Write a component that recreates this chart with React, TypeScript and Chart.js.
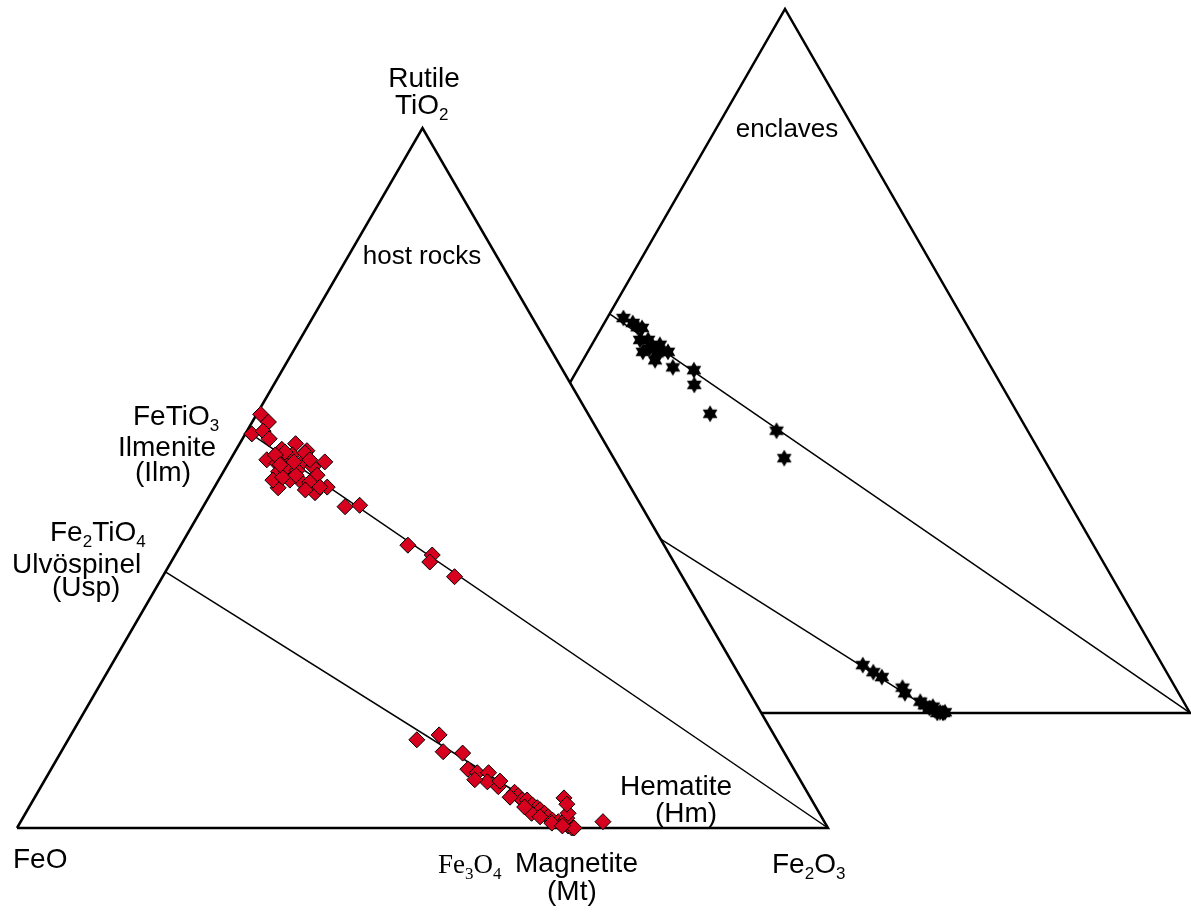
import { useEffect, useRef } from 'react';
import { Chart, registerables } from 'chart.js';

Chart.register(...registerables);

// ---- Data (ternary compositions, % of TiO2 and Fe2O3; FeO is the remainder) ----
const hostTiO2 = [
  59.1, 58.0, 56.3, 56.7, 55.6, 54.1, 54.9, 53.9, 52.6, 52.1, 52.6, 53.3, 52.3, 50.9, 51.4, 51.1, 49.7, 48.6, 49.7, 51.6,
  52.3, 50.4, 49.4, 47.9, 48.7, 48.7, 45.9, 46.1, 40.4, 39.0, 38.0, 35.9, 49.7, 50.1, 53.6, 52.6, 50.4, 53.7, 53.3, 48.3,
  51.9, 52.3,
  12.6, 13.3, 10.9, 10.7, 8.4, 7.9, 7.9, 6.6, 5.9, 6.7, 5.1, 4.6, 4.0, 4.0, 3.3, 2.9, 2.6, 2.1, 1.6, 1.1,
  0.9, 0.7, 0.3, 0.0, 0.0, 1.4, 2.1, 4.3, 3.4, 0.9, 2.1, 1.6, 0.7, 4.4, 3.0, 0.3, 6.9,
];
const hostFe2O3 = [
  0.5, 2.0, 0.8, 2.0, 3.3, 5.6, 6.9, 8.8, 4.5, 6.0, 7.0, 7.3, 9.1, 6.8, 7.7, 9.0, 10.0, 7.9, 8.8, 10.7,
  11.8, 11.8, 11.4, 12.8, 13.9, 13.0, 17.5, 19.2, 28.0, 31.7, 31.9, 36.0, 6.7, 7.7, 8.7, 9.8, 9.2, 6.2, 5.2, 11.4,
  6.5, 8.0,
  43.0, 45.4, 47.1, 49.6, 51.4, 52.8, 54.2, 54.7, 56.4, 56.2, 58.8, 59.5, 60.3, 60.9, 61.9, 62.7, 63.2, 64.0, 64.7, 65.5,
  66.3, 67.0, 67.8, 68.4, 68.7, 67.1, 66.9, 65.3, 66.1, 71.8, 62.4, 63.7, 65.6, 58.6, 61.1, 67.1, 53.0,
];
const enclaveTiO2 = [
  56.1, 55.4, 54.7, 54.8, 53.0, 51.3, 52.0, 52.3, 50.1, 51.3, 51.3, 49.1, 48.7, 46.6, 42.5, 40.1, 36.2, 51.8, 51.1, 53.0,
  6.8, 5.8, 5.1, 3.6, 2.8, 1.6, 1.1, 0.7, 0.4, 0.1, 0.0, 0.0, 0.1, 0.9,
];
const enclaveFe2O3 = [
  2.0, 3.5, 5.0, 4.4, 6.6, 6.8, 7.7, 8.4, 8.9, 8.9, 9.9, 11.6, 14.4, 15.5, 19.5, 28.9, 31.8, 7.4, 8.6, 5.6,
  56.2, 58.0, 59.4, 62.7, 63.4, 65.9, 66.7, 67.5, 68.3, 69.1, 69.5, 68.8, 69.7, 67.8,
];

// End members (TiO2 %, Fe2O3 %)
const ILMENITE = [56.7, 0];
const ULVOSPINEL = [36.6, 0];
const MAGNETITE = [0, 68.6];
const HEMATITE = [0, 100];
const FEO = [0, 0];
const RUTILE = [100, 0];

// ---- Layout: frames of the two triangles in axis units ----
type Frame = { ox: number; oy: number; sx: number; sy: number };
const HOST_FRAME: Frame = { ox: 0, oy: 0, sx: 1, sy: 1 };
const ENCLAVE_FRAME: Frame = { ox: 44.76, oy: 16.43, sx: 0.9988, sy: 1.0057 };

function project(t: number, f3: number, fr: Frame) {
  return { x: fr.ox + fr.sx * (f3 + t / 2), y: fr.oy + fr.sy * t };
}
function pts(ts: number[], fs: number[], fr: Frame) {
  return ts.map((t, i) => project(t, fs[i], fr));
}
function seg(a: number[], b: number[], fr: Frame) {
  return [project(a[0], a[1], fr), project(b[0], b[1], fr)];
}
function frameOutline(fr: Frame) {
  return [FEO, HEMATITE, RUTILE, FEO].map((p) => project(p[0], p[1], fr));
}

type Part = { t: string; sub?: boolean };
type Label = { parts: Part[]; x: number; y: number; size: number; family?: string; align?: 'left' | 'center' };
const SANS = '"Liberation Sans", Arial, sans-serif';
const SERIF = '"Liberation Serif", "Times New Roman", serif';
const labels: Label[] = [
  { parts: [{ t: 'Rutile' }], x: 424, y: 87, size: 28, align: 'center' },
  { parts: [{ t: 'TiO' }, { t: '2', sub: true }], x: 395, y: 114, size: 28 },
  { parts: [{ t: 'host rocks' }], x: 422, y: 264, size: 26, align: 'center' },
  { parts: [{ t: 'enclaves' }], x: 787, y: 137, size: 26, align: 'center' },
  { parts: [{ t: 'FeTiO' }, { t: '3', sub: true }], x: 133, y: 425, size: 28 },
  { parts: [{ t: 'Ilmenite' }], x: 118, y: 456, size: 28 },
  { parts: [{ t: '(Ilm)' }], x: 135, y: 481, size: 28 },
  { parts: [{ t: 'Fe' }, { t: '2', sub: true }, { t: 'TiO' }, { t: '4', sub: true }], x: 50, y: 541, size: 28 },
  { parts: [{ t: 'Ulvöspinel' }], x: 12, y: 573, size: 28 },
  { parts: [{ t: '(Usp)' }], x: 52, y: 596, size: 28 },
  { parts: [{ t: 'Hematite' }], x: 620, y: 795, size: 28 },
  { parts: [{ t: '(Hm)' }], x: 655, y: 822, size: 28 },
  { parts: [{ t: 'FeO' }], x: 13, y: 868, size: 28 },
  { parts: [{ t: 'Fe' }, { t: '3', sub: true }, { t: 'O' }, { t: '4', sub: true }], x: 438, y: 873, size: 27, family: SERIF },
  { parts: [{ t: 'Magnetite' }], x: 515, y: 872, size: 28 },
  { parts: [{ t: '(Mt)' }], x: 547, y: 900, size: 28 },
  { parts: [{ t: 'Fe' }, { t: '2', sub: true }, { t: 'O' }, { t: '3', sub: true }], x: 772, y: 873, size: 28 },
];

const labelPlugin = {
  id: 'ternaryLabels',
  afterDatasetsDraw(chart: any) {
    const ctx: CanvasRenderingContext2D = chart.ctx;
    ctx.save();
    ctx.fillStyle = '#000';
    ctx.textBaseline = 'alphabetic';
    ctx.textAlign = 'left';
    for (const l of labels) {
      const fam = l.family || SANS;
      const fonts = l.parts.map((p) => `${p.sub ? Math.round(l.size * 0.62) : l.size}px ${fam}`);
      const widths = l.parts.map((p, i) => {
        ctx.font = fonts[i];
        return ctx.measureText(p.t).width;
      });
      const total = widths.reduce((a, b) => a + b, 0);
      let x = l.align === 'center' ? l.x - total / 2 : l.x;
      l.parts.forEach((p, i) => {
        ctx.font = fonts[i];
        ctx.fillText(p.t, x, p.sub ? l.y + l.size * 0.22 : l.y);
        x += widths[i];
      });
    }
    ctx.restore();
  },
};

function makeStar(): HTMLCanvasElement {
  const c = document.createElement('canvas');
  c.width = 20;
  c.height = 20;
  const g = c.getContext('2d')!;
  const R = 8.5;
  const r = R / Math.sqrt(3);
  g.beginPath();
  for (let i = 0; i < 12; i++) {
    const a = -Math.PI / 2 + (i * Math.PI) / 6;
    const rad = i % 2 === 0 ? R : r;
    const px = 10 + rad * Math.cos(a);
    const py = 10 + rad * Math.sin(a);
    if (i === 0) g.moveTo(px, py);
    else g.lineTo(px, py);
  }
  g.closePath();
  g.fillStyle = '#000';
  g.fill();
  return c;
}

export default function App() {
  const ref = useRef<HTMLCanvasElement>(null);
  useEffect(() => {
    if (!ref.current) return;
    const star = makeStar();
    const lineDs = (label: string, data: any[], order: number, width: number) => ({
      label,
      data,
      showLine: true,
      borderColor: '#000',
      borderWidth: width,
      pointRadius: 0,
      fill: false,
      clip: false as any,
      order,
      borderJoinStyle: 'miter' as const,
    });
    const chart = new Chart(ref.current, {
      type: 'scatter',
      data: {
        datasets: [
          lineDs('enclave frame', frameOutline(ENCLAVE_FRAME), 10, 2.5),
          lineDs('enclave Ilm-Hm', seg(ILMENITE, HEMATITE, ENCLAVE_FRAME), 9, 1.5),
          lineDs('enclave Usp-Mt', seg(ULVOSPINEL, MAGNETITE, ENCLAVE_FRAME), 9, 1.5),
          {
            label: 'enclaves',
            data: pts(enclaveTiO2, enclaveFe2O3, ENCLAVE_FRAME),
            pointStyle: star as any,
            pointRadius: 8,
            clip: false as any,
            order: 8,
          },
          {
            ...lineDs('host frame', frameOutline(HOST_FRAME), 5, 2.5),
            fill: 'shape' as any,
            backgroundColor: '#ffffff',
          },
          lineDs('host Ilm-Hm', seg(ILMENITE, HEMATITE, HOST_FRAME), 4, 1.5),
          lineDs('host Usp-Mt', seg(ULVOSPINEL, MAGNETITE, HOST_FRAME), 4, 1.5),
          {
            label: 'host rocks',
            data: pts(hostTiO2, hostFe2O3, HOST_FRAME),
            pointStyle: 'rectRot',
            pointRadius: 8,
            backgroundColor: '#d8001f',
            borderColor: '#000',
            borderWidth: 1,
            clip: false as any,
            order: 3,
          },
        ],
      },
      options: {
        responsive: false,
        animation: false,
        events: [],
        layout: { padding: 0, autoPadding: false } as any,
        plugins: { legend: { display: false }, tooltip: { enabled: false }, title: { display: false } },
        scales: {
          x: { type: 'linear', display: false, min: -17 / 8.11, max: (1191 - 17) / 8.11 },
          y: { type: 'linear', display: false, min: -84 / 7, max: 828 / 7 },
        },
      },
      plugins: [labelPlugin],
    });
    return () => chart.destroy();
  }, []);
  return (
    <div style={{ position: 'absolute', left: 0, top: 0, width: 1191, height: 912, background: '#fff' }}>
      <canvas ref={ref} width={1191} height={912} style={{ display: 'block' }} />
    </div>
  );
}
